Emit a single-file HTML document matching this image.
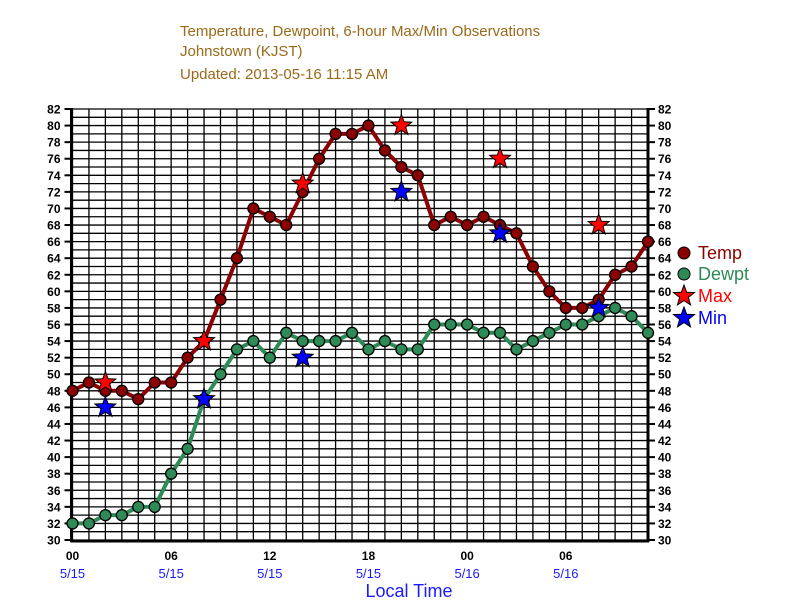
<!DOCTYPE html>
<html><head><meta charset="utf-8"><style>
body{margin:0;background:#fff;width:792px;height:612px;overflow:hidden;font-family:"Liberation Sans",sans-serif}
svg{display:block}
</style></head><body>
<svg id="chart" width="792" height="612" xmlns="http://www.w3.org/2000/svg">
<g fill="#9a6a1a" font-size="15">
<text x="180" y="36">Temperature, Dewpoint, 6-hour Max/Min Observations</text>
<text x="180" y="56">Johnstown (KJST)</text>
<text x="180" y="79">Updated: 2013-05-16 11:15 AM</text>
</g>
<text x="409" y="597" text-anchor="middle" fill="#1a1aff" font-size="18">Local Time</text>
<g id="grid"></g>
<g id="axes"></g>
<g id="series"></g>
<g font-size="18">
<g><circle cx="684" cy="253" r="6" fill="#8b0000" stroke="#000"/><text x="698" y="259" fill="#8b0000">Temp</text></g>
<g><circle cx="684" cy="274" r="6" fill="#2e8b57" stroke="#000"/><text x="698" y="280" fill="#2e8b57">Dewpt</text></g>
<g><polygon id="lgmax" fill="#f00" stroke="#000"/><text x="698" y="302" fill="#f00">Max</text></g>
<g><polygon id="lgmin" fill="#00f" stroke="#000"/><text x="698" y="324" fill="#00f">Min</text></g>
</g>
</svg>
<script>
const hours = [0,1,2,3,4,5,6,7,8,9,10,11,12,13,14,15,16,17,18,19,20,21,22,23,24,25,26,27,28,29,30,31,32,33,34,35];
const temp = [48,49,48,48,47,49,49,52,54,59,64,70,69,68,72,76,79,79,80,77,75,74,68,69,68,69,68,67,63,60,58,58,59,62,63,66];
const dewpt = [32,32,33,33,34,34,38,41,47,50,53,54,52,55,54,54,54,55,53,54,53,53,56,56,56,55,55,53,54,55,56,56,57,58,57,55];
const maxHours = [2,8,14,20,26,32];
const maxVals = [49,54,73,80,76,68];
const minHours = [2,8,14,20,26,32];
const minVals = [46,47,52,72,67,58];
const xTickHours = [0,6,12,18,24,30];
const xTickLabels = ["00","06","12","18","00","06"];
const xDateLabels = ["5/15","5/15","5/15","5/15","5/16","5/16"];
const yMin = 30, yMax = 82, hMax = 35;

const X0 = 72.5, X1 = 648, Y0 = 540, Y1 = 109;
const xs = h => X0 + (X1 - X0) * h / hMax;
const ys = v => Y0 - (Y0 - Y1) * (v - yMin) / (yMax - yMin);
const NS = "http://www.w3.org/2000/svg";
function mk(tag, attrs, parent){const e=document.createElementNS(NS,tag);for(const k in attrs)e.setAttribute(k,attrs[k]);parent.appendChild(e);return e;}
const grid = document.getElementById('grid'), axes = document.getElementById('axes'), series = document.getElementById('series');

for (let v = yMin; v <= yMax; v++) {
  const l = mk('line',{x1:X0,x2:X1,y1:ys(v),y2:ys(v),stroke:'#000','stroke-width':1.3},grid);
  
  
}
for (let h = 0; h <= hMax; h++) {
  const l = mk('line',{x1:xs(h),x2:xs(h),y1:Y1,y2:Y0,stroke:'#000','stroke-width':1.3},grid);
  
  
}
mk('line',{x1:X0-1,x2:X0-1,y1:Y1-1,y2:Y0+2,stroke:'#000','stroke-width':3},axes);
mk('line',{x1:X1,x2:X1,y1:Y1-1,y2:Y0+2,stroke:'#000','stroke-width':3},axes);
mk('line',{x1:X0-2,x2:X1+1,y1:Y0+1,y2:Y0+1,stroke:'#000','stroke-width':3},axes);
for (let v = yMin; v <= yMax; v += 2) {
  const a = mk('text',{x:X0-12,y:ys(v)+4.5,'text-anchor':'end','font-size':12,'font-weight':'bold'},axes);
  a.textContent = v;
  
  
  const b = mk('text',{x:X1+10,y:ys(v)+4.5,'font-size':12,'font-weight':'bold'},axes);
  b.textContent = v;
  
  
  mk('line',{x1:X0-8,x2:X0,y1:ys(v),y2:ys(v),stroke:'#000','stroke-width':2},axes);
  mk('line',{x1:X1,x2:X1+7,y1:ys(v),y2:ys(v),stroke:'#000','stroke-width':2},axes);
}
xTickHours.forEach((h,i)=>{
  const t = mk('text',{x:xs(h),y:560,'text-anchor':'middle','font-size':12,'font-weight':'bold'},axes);
  t.textContent = xTickLabels[i];
  
  
  const d = mk('text',{x:xs(h),y:578,'text-anchor':'middle','font-size':13,fill:'#1a1aff'},axes);
  d.textContent = xDateLabels[i];
  
  
});

function drawLine(vals, color, name){
  const pts = hours.map((h,i)=>xs(h)+','+ys(vals[i])).join(' ');
  const pl = mk('polyline',{points:pts,fill:'none',stroke:color,'stroke-width':4,'stroke-linejoin':'round'},series);
  
  
  hours.forEach((h,i)=>{
    const c = mk('circle',{cx:xs(h),cy:ys(vals[i]),r:5.5,fill:color,stroke:'#000','stroke-width':1.3},series);
    
    
  });
}
function starPts(cx,cy,R){const r=R*0.42;let p=[];for(let k=0;k<10;k++){const a=-Math.PI/2+k*Math.PI/5;const rr=k%2?r:R;p.push((cx+rr*Math.cos(a)).toFixed(1)+','+(cy+rr*Math.sin(a)).toFixed(1));}return p.join(' ');}
drawLine(dewpt,'#2e8b57','dewpt');
drawLine(temp,'#8b0000','temp');
maxHours.forEach((h,i)=>{
  const s = mk('polygon',{points:starPts(xs(h),ys(maxVals[i]),11),fill:'#f00',stroke:'#000','stroke-width':1},series);
  
  
});
minHours.forEach((h,i)=>{
  const s = mk('polygon',{points:starPts(xs(h),ys(minVals[i]),11),fill:'#00f',stroke:'#000','stroke-width':1},series);
  
  
});
document.getElementById('lgmax').setAttribute('points',starPts(684,296,11));
document.getElementById('lgmin').setAttribute('points',starPts(684,318,11));
</script>
</body></html>
